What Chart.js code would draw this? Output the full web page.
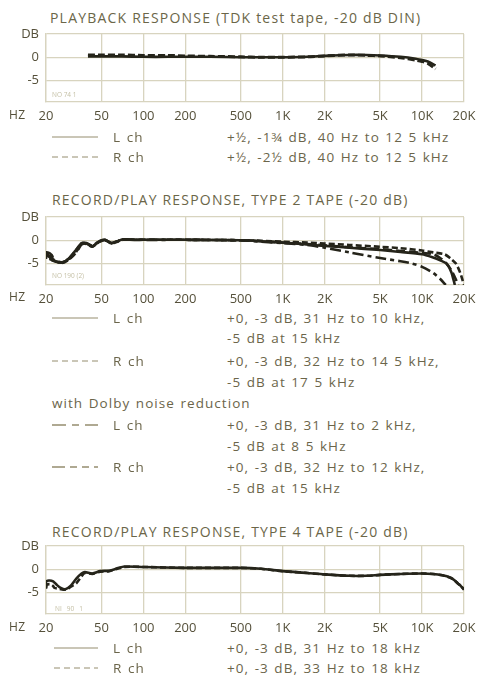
<!DOCTYPE html>
<html>
<head>
<meta charset="utf-8">
<script src="https://cdn.jsdelivr.net/npm/chart.js@4.4.1/dist/chart.umd.min.js"></script>
<style>
  body { margin: 0; background: #fff; }
  #page { position: relative; width: 479px; height: 677px; overflow: hidden; font-family: "Open Sans", sans-serif; }
  .t { position: absolute; white-space: nowrap; line-height: 16px; color: #6b654a; font-size: 13.5px; letter-spacing: 1.05px; word-spacing: 1px; }
  .title { font-size: 14px; color: #6b6648; letter-spacing: 1.2px; word-spacing: 0; }
  .tick { font-size: 12px; color: #55503a; letter-spacing: 0.3px; }
  .note { position: absolute; white-space: nowrap; font-size: 6.5px; color: #c5c0a6; line-height: 8px; }
  canvas { position: absolute; left: 0; }
  svg.key { position: absolute; left: 50px; width: 52px; height: 6px; overflow: visible; }
</style>
</head>
<body>
<div id="page">
  <!-- Playback response -->
  <div class="t title" style="left:50px; top:10px;">PLAYBACK RESPONSE (TDK test tape, -20 dB DIN)</div>
  <canvas id="c1" width="479" height="102" style="top:24px;"></canvas>
  <div class="note" style="left:52px; top:91px;">NO 74 1</div>
  <div class="t tick" style="left:9px; top:107px;">HZ</div>
  <svg class="key" style="top:134px;"><line x1="2" y1="3" x2="48" y2="3" stroke="#958d6f" stroke-width="1"/></svg>
  <div class="t" style="left:113px; top:129px;">L ch</div>
  <div class="t" style="left:227px; top:129px;">+½, -1¾ dB, 40 Hz to 12 5 kHz</div>
  <svg class="key" style="top:154px;"><line x1="2" y1="3" x2="48" y2="3" stroke="#958d6f" stroke-width="1" stroke-dasharray="6 4"/></svg>
  <div class="t" style="left:113px; top:149px;">R ch</div>
  <div class="t" style="left:227px; top:149px;">+½, -2½ dB, 40 Hz to 12 5 kHz</div>

  <!-- Type 2 tape -->
  <div class="t title" style="left:52px; top:192px;">RECORD/PLAY RESPONSE, TYPE 2 TAPE (-20 dB)</div>
  <canvas id="c2" width="479" height="102" style="top:207px;"></canvas>
  <div class="note" style="left:52px; top:272px;">NO 190 (2)</div>
  <div class="t tick" style="left:9px; top:289px;">HZ</div>
  <svg class="key" style="top:315px;"><line x1="2" y1="3" x2="48" y2="3" stroke="#958d6f" stroke-width="1"/></svg>
  <div class="t" style="left:113px; top:310px;">L ch</div>
  <div class="t" style="left:227px; top:310px;">+0, -3 dB, 31 Hz to 10 kHz,</div>
  <div class="t" style="left:227px; top:330px;">-5 dB at 15 kHz</div>
  <svg class="key" style="top:358px;"><line x1="2" y1="3" x2="48" y2="3" stroke="#958d6f" stroke-width="1" stroke-dasharray="6 4"/></svg>
  <div class="t" style="left:113px; top:353px;">R ch</div>
  <div class="t" style="left:227px; top:353px;">+0, -3 dB, 32 Hz to 14 5 kHz,</div>
  <div class="t" style="left:227px; top:374px;">-5 dB at 17 5 kHz</div>
  <div class="t" style="left:52px; top:395px;">with Dolby noise reduction</div>
  <svg class="key" style="top:422px;"><line x1="2" y1="3" x2="48" y2="3" stroke="#958d6f" stroke-width="1.3" stroke-dasharray="14 6 7 6 14"/></svg>
  <div class="t" style="left:113px; top:417px;">L ch</div>
  <div class="t" style="left:227px; top:417px;">+0, -3 dB, 31 Hz to 2 kHz,</div>
  <div class="t" style="left:227px; top:438px;">-5 dB at 8 5 kHz</div>
  <svg class="key" style="top:464px;"><line x1="2" y1="3" x2="48" y2="3" stroke="#958d6f" stroke-width="1.3" stroke-dasharray="13 5 7 5 7 5 6"/></svg>
  <div class="t" style="left:113px; top:459px;">R ch</div>
  <div class="t" style="left:227px; top:459px;">+0, -3 dB, 32 Hz to 12 kHz,</div>
  <div class="t" style="left:227px; top:480px;">-5 dB at 15 kHz</div>

  <!-- Type 4 tape -->
  <div class="t title" style="left:52px; top:524px;">RECORD/PLAY RESPONSE, TYPE 4 TAPE (-20 dB)</div>
  <canvas id="c3" width="479" height="102" style="top:536px;"></canvas>
  <div class="note" style="left:55px; top:605px;">NI &nbsp; 90 &nbsp; 1</div>
  <div class="t tick" style="left:9px; top:619px;">HZ</div>
  <svg class="key" style="top:645px;"><line x1="4" y1="3" x2="48" y2="3" stroke="#958d6f" stroke-width="1"/></svg>
  <div class="t" style="left:113px; top:640px;">L ch</div>
  <div class="t" style="left:227px; top:640px;">+0, -3 dB, 31 Hz to 18 kHz</div>
  <svg class="key" style="top:665px;"><line x1="4" y1="3" x2="48" y2="3" stroke="#958d6f" stroke-width="1" stroke-dasharray="6 4"/></svg>
  <div class="t" style="left:113px; top:660px;">R ch</div>
  <div class="t" style="left:227px; top:660px;">+0, -3 dB, 33 Hz to 18 kHz</div>
</div>

<script>
// Axis ticks shared by all three response graphs
const FREQ_TICKS = [20, 50, 100, 200, 500, 1000, 2000, 5000, 10000, 20000];
const FREQ_LABELS = ['20', '50', '100', '200', '500', '1K', '2K', '5K', '10K', '20K'];
const DB_TICKS = [5, 0, -5];
const DB_LABELS = ['DB', '0', '-5'];

// Playback response, TDK test tape (-20 dB DIN)
const pbFreq   = [40, 50, 70, 100, 150, 200, 300, 500, 700, 1000, 1500, 2000, 3000, 4000, 5000, 7000, 9000, 10000, 11000, 12500];
const pbLevelL = [0.2, 0.2, 0.2, 0.1, 0.1, 0.1, 0.1, 0, 0, 0, 0.1, 0.3, 0.5, 0.5, 0.4, 0.1, -0.3, -0.6, -0.9, -1.75];
const pbLevelR = [0.5, 0.5, 0.5, 0.4, 0.4, 0.3, 0.2, 0.1, 0, 0, 0.1, 0.3, 0.5, 0.4, 0.3, -0.1, -0.6, -0.9, -1.3, -2.5];

// Record/play response, type 2 tape (-20 dB)
const t2FreqL  = [20, 20, 21.3, 22.3, 21.8, 23.5, 26, 29, 31, 33, 36, 39, 43, 46, 49, 53, 56, 59, 65, 71, 80, 100, 200, 500, 700, 1000, 1500, 2000, 3000, 5000, 7000, 10000, 12000, 13500, 15000, 16200, 17200];
const t2LevelL = [-4.0, -2.6, -2.8, -3.5, -4.2, -4.6, -4.8, -4.0, -3.0, -2.0, -0.6, -0.7, -1.3, -0.7, -0.1, 0.1, -0.3, -0.6, -0.2, 0.2, 0.1, 0.1, 0.1, 0, -0.2, -0.5, -0.9, -1.2, -1.6, -2.1, -2.5, -3.0, -3.7, -4.3, -5.0, -6.8, -9.6];
const t2FreqR  = [20, 20, 21, 22, 21.5, 23.5, 26, 29, 32, 34, 36, 39, 43, 46, 49, 53, 56, 59, 65, 71, 80, 100, 200, 500, 700, 1000, 1500, 2000, 3000, 5000, 7000, 10000, 12000, 14500, 16000, 17500, 18800, 20000];
const t2LevelR = [-3.8, -2.8, -3.0, -3.6, -4.1, -4.5, -4.9, -4.2, -3.0, -1.8, -0.8, -0.8, -1.4, -0.8, -0.2, 0.0, -0.3, -0.7, -0.3, 0.1, 0.1, 0.1, 0.1, 0, -0.1, -0.3, -0.5, -0.7, -1.0, -1.4, -1.7, -2.2, -2.6, -3.0, -3.9, -5.0, -7.0, -9.6];
const t2DolbyFreqL  = [20, 22, 24, 26, 29, 31, 33, 36, 39, 43, 46, 49, 53, 59, 65, 71, 100, 200, 500, 700, 1000, 1500, 2000, 3000, 5000, 7000, 8500, 10000, 12000, 13500, 14800];
const t2DolbyLevelL = [-2.8, -3.9, -4.5, -4.7, -4.0, -3.0, -2.0, -0.7, -0.6, -1.2, -0.6, -0.1, 0.1, -0.6, -0.2, 0.2, 0.1, 0.1, 0, -0.3, -0.6, -1.0, -1.6, -2.6, -3.8, -4.5, -5.0, -5.7, -7.0, -8.3, -9.6];
const t2DolbyFreqR  = [20, 22, 24, 26, 29, 32, 34, 36, 39, 43, 46, 49, 53, 59, 65, 71, 100, 200, 500, 700, 1000, 1500, 2000, 3000, 5000, 7000, 10000, 12000, 13500, 15000, 16500, 18200];
const t2DolbyLevelR = [-3.0, -4.0, -4.6, -4.8, -4.1, -3.0, -2.0, -0.9, -0.7, -1.3, -0.7, -0.2, 0.0, -0.6, -0.2, 0.1, 0.1, 0.1, 0, -0.2, -0.5, -0.8, -1.1, -1.5, -1.9, -2.3, -2.7, -3.0, -3.8, -5.0, -6.8, -9.6];

// Record/play response, type 4 tape (-20 dB)
const t4FreqL  = [20, 20, 21, 22.5, 24, 25.5, 27.5, 30, 33, 36, 38, 43, 49, 57, 65, 73, 100, 200, 500, 700, 1000, 1500, 2000, 3000, 4000, 5000, 7000, 10000, 12000, 14000, 16000, 17000, 18000, 19000, 20000];
const t4LevelL = [-4.2, -2.7, -2.4, -2.6, -3.4, -4.0, -4.3, -3.6, -2.0, -0.9, -0.6, -0.9, -0.4, -0.3, 0.2, 0.6, 0.5, 0.3, 0.3, 0.1, -0.4, -0.8, -1.1, -1.4, -1.4, -1.2, -1.0, -0.9, -1.0, -1.3, -1.8, -2.3, -3.0, -3.6, -4.4];
const t4FreqR  = [20, 20.3, 21.5, 22.5, 23, 25, 27.5, 30, 33, 36, 38, 43, 49, 57, 65, 73, 100, 200, 500, 700, 1000, 1500, 2000, 3000, 4000, 5000, 7000, 10000, 12000, 14000, 16000, 17000, 18000, 19000, 20000];
const t4LevelR = [-4.0, -3.3, -3.2, -3.6, -4.0, -4.2, -4.4, -3.8, -3.0, -1.5, -0.8, -1.0, -0.5, -0.4, 0.1, 0.5, 0.5, 0.3, 0.3, 0.1, -0.4, -0.8, -1.1, -1.4, -1.4, -1.2, -1.0, -0.9, -1.0, -1.3, -1.8, -2.3, -3.0, -3.6, -4.3];

const INK = '#25241a';
const GRID = '#d8d4bf';
const TICK_COLOR = '#55503a';
const FONT = '"Open Sans", sans-serif';

function points(freqs, levels) {
  return freqs.map((f, i) => ({ x: f, y: levels[i] }));
}

function curve(freqs, levels, dash, width) {
  return {
    data: points(freqs, levels),
    borderColor: INK,
    borderWidth: width || 2.6,
    borderDash: dash || [],
    pointRadius: 0,
    tension: 0.25,
    fill: false
  };
}

function responseChart(id, datasets) {
  return new Chart(document.getElementById(id), {
    type: 'line',
    data: { datasets },
    options: {
      responsive: false,
      animation: false,
      events: [],
      layout: { padding: { left: 0, right: 15, top: 10, bottom: 0 } },
      plugins: { legend: { display: false }, tooltip: { enabled: false } },
      scales: {
        x: {
          type: 'logarithmic',
          min: 20,
          max: 20000,
          afterBuildTicks: s => { s.ticks = FREQ_TICKS.map(v => ({ value: v })); },
          afterFit: s => { s.height = 24; s.paddingLeft = 0; s.paddingRight = 0; },
          ticks: {
            autoSkip: false,
            maxRotation: 0,
            padding: 6,
            color: TICK_COLOR,
            font: { family: FONT, size: 13 },
            callback: v => FREQ_LABELS[FREQ_TICKS.indexOf(v)]
          },
          grid: { color: GRID, lineWidth: 1.3, drawTicks: false },
          border: { color: GRID, width: 1.3 }
        },
        y: {
          min: -9.6,
          max: 5,
          afterBuildTicks: s => { s.ticks = DB_TICKS.map(v => ({ value: v })); },
          afterFit: s => { s.width = 46; s.paddingTop = 0; s.paddingBottom = 0; },
          ticks: {
            padding: 7,
            color: TICK_COLOR,
            font: { family: FONT, size: 13 },
            callback: v => DB_LABELS[DB_TICKS.indexOf(v)]
          },
          grid: { color: GRID, lineWidth: 1.3, drawTicks: false },
          border: { color: GRID, width: 1.3 }
        }
      }
    }
  });
}

responseChart('c1', [
  curve(pbFreq, pbLevelL, [], 2.6),
  curve(pbFreq, pbLevelR, [7, 3], 3)
]);

responseChart('c2', [
  curve(t2FreqL, t2LevelL, []),
  curve(t2FreqR, t2LevelR, [6, 3]),
  curve(t2DolbyFreqL, t2DolbyLevelL, [11, 4, 4, 4]),
  curve(t2DolbyFreqR, t2DolbyLevelR, [9, 4])
]);

responseChart('c3', [
  curve(t4FreqL, t4LevelL, []),
  curve(t4FreqR, t4LevelR, [6, 3])
]);
</script>
</body>
</html>
